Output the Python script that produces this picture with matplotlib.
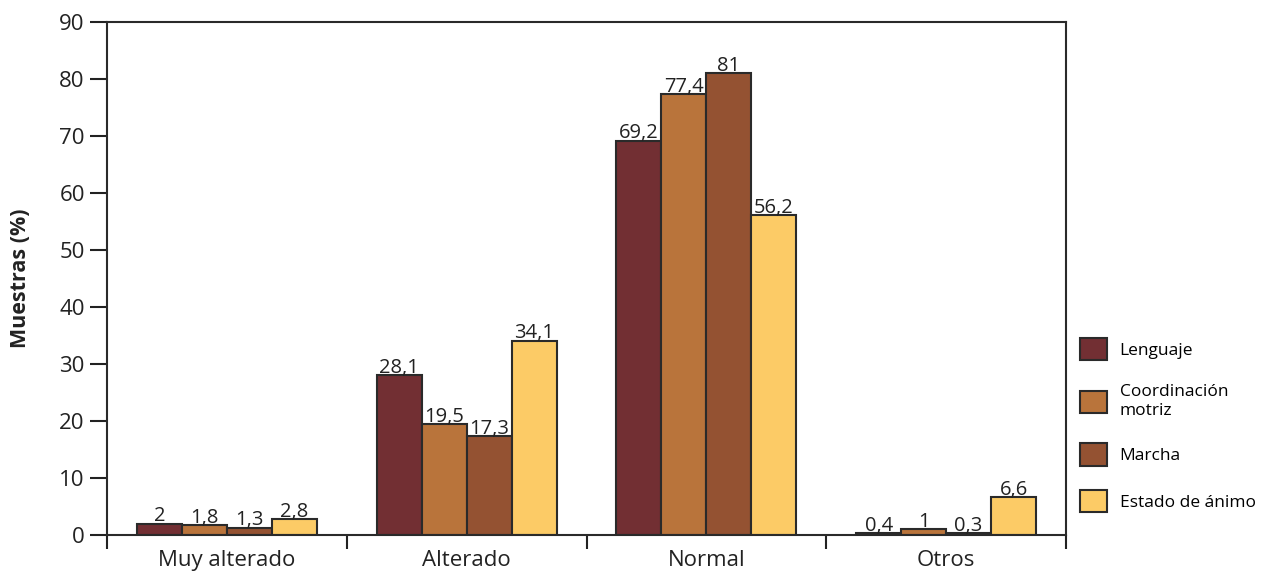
import numpy as np
import matplotlib.pyplot as plt
from matplotlib.patches import Patch

plt.rcParams['font.family'] = ['Open Sans', 'DejaVu Sans']

categorias = ["Muy alterado", "Alterado", "Normal", "Otros"]
series = ["Lenguaje", "Coordinación\nmotriz", "Marcha", "Estado de ánimo"]
lenguaje = [2, 28.1, 69.2, 0.4]
coordinacion = [1.8, 19.5, 77.4, 1]
marcha = [1.3, 17.3, 81, 0.3]
animo = [2.8, 34.1, 56.2, 6.6]
colores = ["#722f33", "#b9743b", "#945232", "#fccb66"]

valores = [lenguaje, coordinacion, marcha, animo]

fig = plt.figure(figsize=(12.69, 5.71), dpi=100)
ax = fig.add_axes([107 / 1269, 36 / 571, 959 / 1269, 513 / 571])

x = np.arange(len(categorias))
ancho = 0.1875
for k, (vals, col) in enumerate(zip(valores, colores)):
    pos = x + (k - 1.5) * ancho
    ax.bar(pos, vals, width=ancho, color=col, edgecolor="#2a2a2a", linewidth=1.5)
    for px, v in zip(pos, vals):
        txt = f"{v:g}".replace(".", ",")
        ax.text(px, v - 0.5, txt, ha="center", va="bottom", fontsize=14.5, color="#222222")

ax.set_xlim(-0.5, 3.5)
ax.set_ylim(0, 90)
ax.set_yticks(range(0, 91, 10))
ax.set_xticks(x)
ax.set_xticklabels(categorias)
ax.set_xticks(np.arange(-0.5, 3.6, 1), minor=True)
ax.tick_params(axis="x", which="major", length=0, labelsize=16, pad=11, colors="#222222")
ax.tick_params(axis="x", which="minor", length=10, width=1.5, color="#222222")
ax.tick_params(axis="y", length=12, width=1.5, labelsize=16, pad=4, colors="#222222")

for s in ax.spines.values():
    s.set_linewidth(1.5)
    s.set_color("#2a2a2a")

ax.set_ylabel("Muestras (%)", fontsize=15.5, fontweight="bold", labelpad=20, color="#222222")

handles = [Patch(facecolor=c, edgecolor="#2a2a2a", linewidth=1.5) for c in colores]
fig.legend(handles, series, loc="center left", bbox_to_anchor=(1064 / 1269, 1 - 425 / 571),
           frameon=False, fontsize=12.5, handlelength=1.6, handleheight=1.6,
           labelspacing=1.4, handletextpad=0.7)

fig.savefig("out.png", dpi=100, facecolor="white")
